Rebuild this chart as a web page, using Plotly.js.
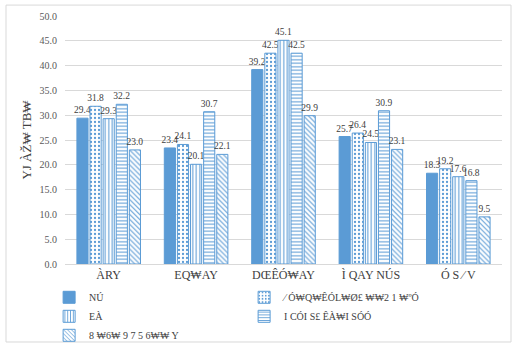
<!DOCTYPE html>
<html>
<head>
<meta charset="utf-8">
<script src="https://cdn.plot.ly/plotly-3.0.1.min.js"></script>
<style>
  html, body { margin: 0; padding: 0; background: #fff; }
  #chart { width: 517px; height: 347px; }
</style>
</head>
<body>
<div id="chart"></div>
<script>
// Category labels along the x axis
const categories = ["ÀRY", "EQ₩AY", "DŒÊÓ₩AY", "Ì QAY NÚS", "Ó S ⁄ V"];

// Series names (legend entries)
const seriesNames = [
  "NÚ",
  "⁄ Ó₩Q₩ÊÓL₩Ø£ ₩₩2 1 ₩ºÓ",
  "EÀ",
  "I CÓI S£ ÊÀ₩I SÓÓ",
  "8 ₩6₩ 9 7 5 6₩₩ Y"
];

// Series values, one array per series
const series1 = [29.4, 23.4, 39.2, 25.7, 18.3];
const series2 = [31.8, 24.1, 42.5, 26.4, 19.2];
const series3 = [29.3, 20.1, 45.1, 24.5, 17.6];
const series4 = [32.2, 30.7, 42.5, 30.9, 16.8];
const series5 = [23.0, 22.1, 29.9, 23.1, 9.5];

// Y axis ticks
const yTicks = [0, 5, 10, 15, 20, 25, 30, 35, 40, 45, 50];
const yTickLabels = ["0.0", "5.0", "10.0", "15.0", "20.0", "25.0", "30.0", "35.0", "40.0", "45.0", "50.0"];

const yTitle = "YJ ÀŽ₩ TB₩";

const BLUE = "#5B9BD5";
const allValues = [series1, series2, series3, series4, series5];
const patterns = ["", ".", "|", "-", "\\"];

const traces = allValues.map((vals, i) => {
  const marker = { color: BLUE, line: { color: BLUE, width: 1 } };
  if (patterns[i]) {
    marker.color = "#ffffff";
    marker.pattern = {
      shape: patterns[i],
      fgcolor: BLUE,
      bgcolor: "#ffffff",
      size: i === 1 ? 4 : 3.5,
      solidity: i === 1 ? 0.25 : 0.3
    };
  }
  return {
    type: "bar",
    name: seriesNames[i],
    x: categories,
    y: vals,
    marker: marker,
    text: vals.map(v => v.toFixed(1)),
    textposition: "outside",
    cliponaxis: false,
    constraintext: "none",
    textfont: { family: "Liberation Serif", size: 9.5, color: "#404040" },
    hoverinfo: "x+y"
  };
});

const layout = {
  width: 517,
  height: 347,
  margin: { l: 65, r: 15, t: 16, b: 83 },
  paper_bgcolor: "#ffffff",
  plot_bgcolor: "#ffffff",
  barmode: "group",
  bargap: 0.25,
  bargroupgap: 0.15,
  font: { family: "Liberation Serif", color: "#404040", size: 11 },
  xaxis: {
    type: "category",
    showgrid: false,
    showline: true,
    linecolor: "#D9D9D9",
    linewidth: 1,
    ticks: "",
    tickfont: { family: "Liberation Serif", size: 12, color: "#404040" },
    automargin: false
  },
  yaxis: {
    range: [0, 50],
    tickvals: yTicks,
    ticktext: yTickLabels,
    showgrid: true,
    gridcolor: "#D9D9D9",
    gridwidth: 1,
    zeroline: false,
    showline: false,
    ticks: "",
    ticklen: 0,
    ticklabelstandoff: 7,
    tickfont: { family: "Liberation Serif", size: 10, color: "#595959" },
    title: { text: yTitle, font: { family: "Liberation Serif", size: 13, color: "#404040" }, standoff: 4 },
    automargin: false
  },
  legend: {
    orientation: "h",
    xref: "container",
    yref: "container",
    x: 0.095,
    xanchor: "left",
    y: 0.185,
    yanchor: "top",
    entrywidth: 150,
    entrywidthmode: "pixels",
    traceorder: "normal",
    font: { family: "Liberation Serif", size: 10, color: "#404040" },
    itemwidth: 30,
    tracegroupgap: 0,
    bgcolor: "rgba(0,0,0,0)"
  },
  shapes: [{
    type: "rect",
    xref: "paper", yref: "paper",
    x0: -0.135, x1: 1.0206,
    y0: -0.3145, y1: 1.044,
    line: { color: "#D9D9D9", width: 1 },
    fillcolor: "rgba(0,0,0,0)",
    layer: "below"
  }],
  showlegend: true
};

Plotly.newPlot("chart", traces, layout, { displayModeBar: false, staticPlot: true });
</script>
</body>
</html>
